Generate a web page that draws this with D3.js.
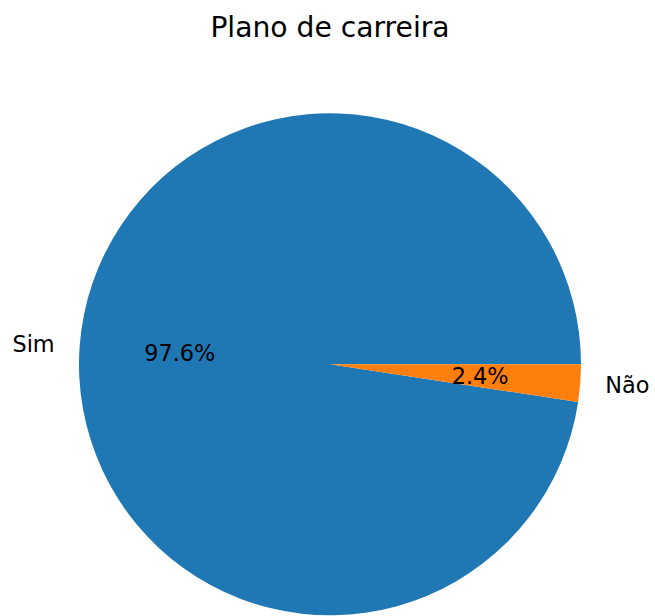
<!DOCTYPE html>
<html><head><meta charset="utf-8">
<script src="https://cdn.jsdelivr.net/npm/d3@7"></script>
<style>body{margin:0;background:#fff}svg{display:block}</style>
</head><body>
<svg id="c" width="655" height="616"></svg>
<script>
const categories = ["Sim", "Não"];
const values = [97.6, 2.4];
const colors = ["#1f77b4", "#ff7f0e"];
const title = "Plano de carreira";

const W = 655, H = 616, cx = 330, cy = 364.3, R = 251;
const svg = d3.select("#c");
const font = "DejaVu Sans, sans-serif";

svg.append("text").attr("x", cx).attr("y", 36.5).attr("text-anchor", "middle")
  .attr("font-family", font).attr("font-size", 28.2).attr("fill", "#000").text(title);

// matplotlib: start at 0 rad (3 o'clock), counterclockwise
const total = d3.sum(values);
const pie = d3.pie().sort(null).value(d => d)
  .startAngle(Math.PI / 2).endAngle(Math.PI / 2 - 2 * Math.PI);
const arcs = pie(values);
const arc = d3.arc().innerRadius(0).outerRadius(R);
const g = svg.append("g").attr("transform", `translate(${cx},${cy})`);
g.selectAll("path").data(arcs).enter().append("path")
  .attr("d", arc).attr("fill", (d, i) => colors[i]);

arcs.forEach((d, i) => {
  const mid = (d.startAngle + d.endAngle) / 2; // d3 angle: 0 at top, clockwise
  const sx = Math.sin(mid), sy = -Math.cos(mid);
  g.append("text").attr("x", 1.1 * R * sx).attr("y", 1.1 * R * sy)
    .attr("text-anchor", sx < 0 ? "end" : "start").attr("dominant-baseline", "central")
    .attr("font-family", font).attr("font-size", 22.4).attr("fill", "#000").text(categories[i]);
  g.append("text").attr("x", 0.6 * R * sx).attr("y", 0.6 * R * sy)
    .attr("text-anchor", "middle").attr("dominant-baseline", "central")
    .attr("font-family", font).attr("font-size", 22.4).attr("fill", "#000")
    .text((values[i] / total * 100).toFixed(1) + "%");
});
</script>
</body></html>
